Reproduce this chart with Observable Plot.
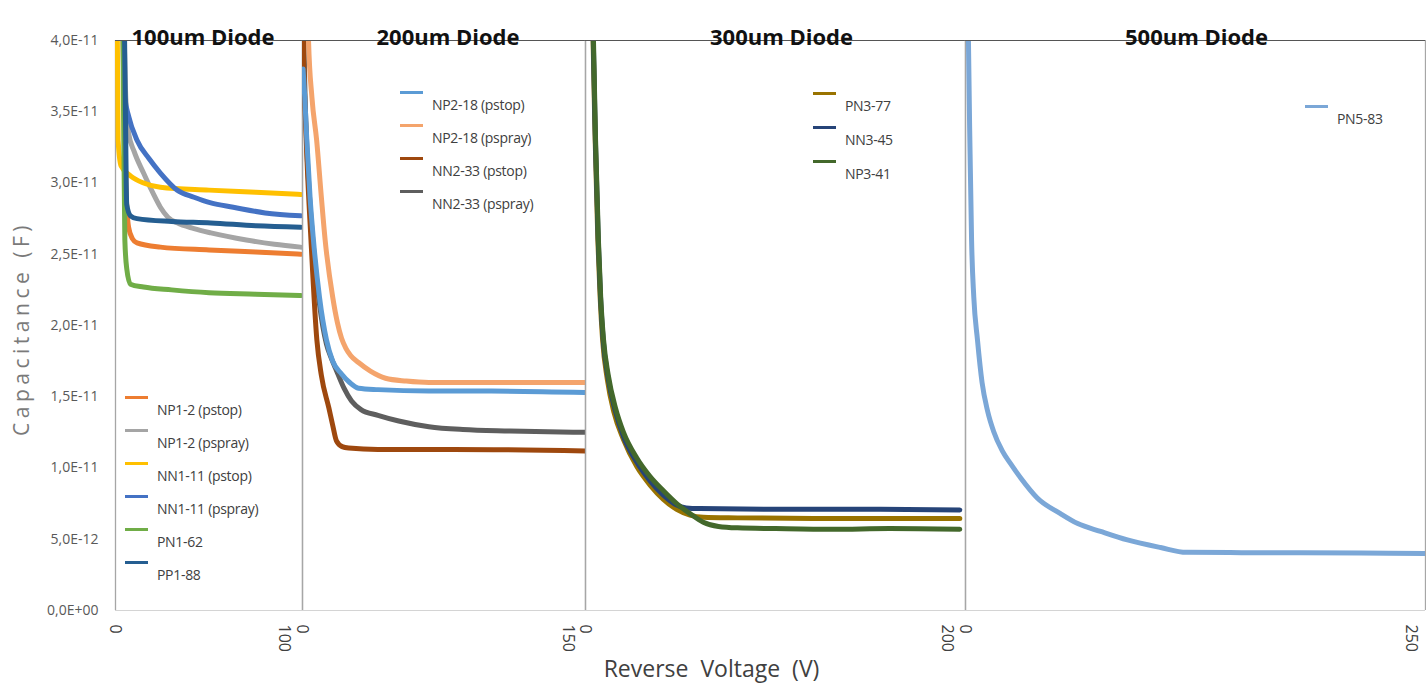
<!DOCTYPE html>
<html><head><meta charset="utf-8">
<script src="https://cdn.jsdelivr.net/npm/d3@7"></script>
<script src="https://cdn.jsdelivr.net/npm/@observablehq/plot@0.6"></script>
<style>
body{margin:0;background:#fff;}
#chart{position:relative;width:1426px;height:692px;overflow:hidden;background:#fff;}
#chart svg{position:absolute;top:0;overflow:visible;}
.leg{position:absolute;height:0;font-family:"Open Sans",sans-serif;font-size:14px;color:#404040;letter-spacing:-0.3px;}
.sw{position:absolute;left:0;top:-1px;width:23px;height:2.5px;}
.lt{position:absolute;left:32px;top:12px;transform:translateY(-50%);white-space:nowrap;}
</style></head><body>
<div id="chart"></div>
<script>
// ---- tick labels / categories ----
const yTicks = [0, 5e-12, 1e-11, 1.5e-11, 2e-11, 2.5e-11, 3e-11, 3.5e-11, 4e-11];
const panelTitles = ["100um Diode", "200um Diode", "300um Diode", "500um Diode"];
const panelXMax = [100, 150, 200, 250];

// ---- series values: [reverse voltage (V), capacitance (F)] ----
// 100um
const np1_2_pstop = [[0,9e-11],[4,4e-11],[5.5,3e-11],[7,2.69e-11],[9,2.61e-11],[11.5,2.58e-11],[24,2.55e-11],[50,2.53e-11],[75,2.515e-11],[99,2.5e-11]];
const np1_2_pspray = [[0,9e-11],[4,4.5e-11],[5.5,3.6e-11],[7,3.35e-11],[10,3.22e-11],[15,3.07e-11],[20,2.93e-11],[24,2.83e-11],[28,2.76e-11],[33,2.72e-11],[42,2.68e-11],[51,2.65e-11],[70,2.6e-11],[85,2.57e-11],[99,2.55e-11]];
const nn1_11_pstop = [[0,9e-11],[1,4e-11],[1.4,3.3e-11],[3,3.12e-11],[8,3.05e-11],[15,3.0e-11],[24,2.97e-11],[50,2.95e-11],[75,2.935e-11],[99,2.92e-11]];
const nn1_11_pspray = [[0,9e-11],[3,5e-11],[4.3,4e-11],[5,3.6e-11],[7,3.47e-11],[11.5,3.3e-11],[18,3.17e-11],[24,3.07e-11],[33,2.95e-11],[42,2.9e-11],[51,2.86e-11],[63,2.83e-11],[80,2.79e-11],[99,2.77e-11]];
const pn1_62 = [[0,9e-11],[3.5,5e-11],[4.3,3.5e-11],[5,2.6e-11],[6,2.4e-11],[8,2.29e-11],[15,2.27e-11],[30,2.25e-11],[50,2.23e-11],[75,2.22e-11],[99,2.21e-11]];
const pp1_88 = [[0,9e-11],[4,5e-11],[5.3,3.5e-11],[6,2.85e-11],[8,2.77e-11],[11.5,2.75e-11],[30,2.73e-11],[51,2.72e-11],[75,2.7e-11],[99,2.69e-11]];
// 200um
const np2_18_pstop = [[0.3,3.8e-11],[1.2,3.6e-11],[2.3,3.3e-11],[4,2.9e-11],[5.8,2.6e-11],[9,2.2e-11],[12.7,1.9e-11],[16,1.75e-11],[20.7,1.66e-11],[25,1.6e-11],[29.7,1.56e-11],[40,1.55e-11],[67,1.54e-11],[100,1.54e-11],[150,1.53e-11]];
const np2_18_pspray = [[0,9e-11],[2,5e-11],[3.2,4e-11],[5,3.6e-11],[7.5,3.3e-11],[10,2.9e-11],[12,2.6e-11],[16,2.2e-11],[18.5,2.02e-11],[20.7,1.91e-11],[23,1.84e-11],[25.5,1.79e-11],[29.7,1.74e-11],[36,1.68e-11],[44,1.63e-11],[55,1.61e-11],[67,1.6e-11],[100,1.6e-11],[150,1.6e-11]];
const nn2_33_pstop = [[0,9e-11],[0.5,4e-11],[2,3.3e-11],[4.5,2.6e-11],[7.6,1.9e-11],[10,1.65e-11],[14,1.42e-11],[16,1.3e-11],[18,1.19e-11],[21,1.15e-11],[24.5,1.14e-11],[40,1.13e-11],[80,1.13e-11],[150,1.12e-11]];
const nn2_33_pspray = [[0,9e-11],[0.8,4e-11],[2.3,3.25e-11],[4,2.85e-11],[5.8,2.55e-11],[9,2.15e-11],[12.7,1.87e-11],[15,1.78e-11],[17.5,1.7e-11],[22,1.56e-11],[26,1.47e-11],[31,1.41e-11],[40,1.37e-11],[51,1.33e-11],[67,1.29e-11],[85,1.27e-11],[110,1.26e-11],[150,1.25e-11]];
// 300um
const pn3_77 = [[0,1e-10],[3,5e-11],[4,4e-11],[5.1,3.3e-11],[6.5,2.6e-11],[7.7,2.2e-11],[9,1.9e-11],[11.5,1.62e-11],[15,1.39e-11],[20,1.2e-11],[27,1.01e-11],[34,8.8e-12],[41,7.8e-12],[48,7.1e-12],[55,6.7e-12],[62,6.55e-12],[80,6.5e-12],[120,6.45e-12],[197,6.45e-12]];
const nn3_45 = [[0,1e-10],[3,5e-11],[4.1,4e-11],[5.2,3.3e-11],[6.7,2.6e-11],[7.9,2.2e-11],[9.3,1.9e-11],[11.8,1.64e-11],[15.5,1.41e-11],[20,1.22e-11],[27,1.04e-11],[34,9.1e-12],[41,8.1e-12],[48,7.4e-12],[53,7.2e-12],[60,7.15e-12],[100,7.1e-12],[150,7.1e-12],[197,7.05e-12]];
const np3_41 = [[0,1e-10],[3,5e-11],[4.2,4e-11],[5.3,3.3e-11],[6.8,2.6e-11],[8,2.2e-11],[9.5,1.9e-11],[12,1.65e-11],[15.8,1.42e-11],[20,1.25e-11],[27,1.07e-11],[34,9.4e-12],[41,8.4e-12],[48,7.5e-12],[55,6.8e-12],[62,6.2e-12],[70,5.9e-12],[80,5.8e-12],[100,5.75e-12],[130,5.7e-12],[160,5.75e-12],[197,5.7e-12]];
// 500um
const pn5_83 = [[0,1e-10],[1,5e-11],[1.6,4e-11],[2.5,3.2e-11],[3.3,2.6e-11],[4.5,2.2e-11],[6.5,1.9e-11],[9,1.6e-11],[12,1.4e-11],[15.2,1.26e-11],[20,1.12e-11],[24.5,1.03e-11],[30,9.3e-12],[39,7.9e-12],[51.6,6.8e-12],[61,6.1e-12],[73.4,5.55e-12],[88,4.95e-12],[106,4.42e-12],[120,4.08e-12],[150,4.06e-12],[182,4.05e-12],[215,4.03e-12],[250,4.0e-12]];

const panelSeries = [
  [["NP1-2 (pstop)", np1_2_pstop], ["NP1-2 (pspray)", np1_2_pspray], ["NN1-11 (pstop)", nn1_11_pstop], ["NN1-11 (pspray)", nn1_11_pspray], ["PN1-62", pn1_62], ["PP1-88", pp1_88]],
  [["NP2-18 (pstop)", np2_18_pstop], ["NP2-18 (pspray)", np2_18_pspray], ["NN2-33 (pstop)", nn2_33_pstop], ["NN2-33 (pspray)", nn2_33_pspray]],
  [["PN3-77", pn3_77], ["NN3-45", nn3_45], ["NP3-41", np3_41]],
  [["PN5-83", pn5_83]]
];

// ---- styles / layout ----
const panelColors = [
  ["#ED7D31", "#A5A5A5", "#FFC000", "#4472C4", "#70AD47", "#255E91"],
  ["#5B9BD5", "#F4A46C", "#9E480E", "#5E5E5E"],
  ["#997300", "#264478", "#43682B"],
  ["#7BA7D7"]
];
const drawOrder = [[0, 1, 2, 3, 4, 5], [3, 2, 1, 0], [0, 1, 2], [0]];
const layout = [
  {left: 0, width: 302, ml: 115, mr: 0, maxDx: -18, titleDx: -6, leg: {x: 125, y: 397, step: 33}},
  {left: 302, width: 283, ml: 0, mr: 0, maxDx: -17, titleDx: 4, leg: {x: 400, y: 92, step: 33}},
  {left: 585, width: 380, ml: 0, mr: 0, maxDx: -18, titleDx: 6, leg: {x: 813, y: 93, step: 34}},
  {left: 965, width: 461, ml: 0, mr: 1, maxDx: -14, titleDx: 1, leg: {x: 1305, y: 106, step: 33}}
];

function sci(v) {
  const [m, e] = v.toExponential(1).split("e");
  const sign = e[0] === "-" ? "-" : "+";
  return m.replace(".", ",") + "E" + sign + e.replace(/[+-]/, "").padStart(2, "0");
}

const chart = document.getElementById("chart");
const fontFam = "'Open Sans', sans-serif";

panelTitles.forEach((title, i) => {
  const L = layout[i];
  const xmax = panelXMax[i];
  const marks = [
    Plot.ruleY([0], {stroke: "#d4d4d4", strokeWidth: 1.2}),
    Plot.ruleX([0, xmax], {stroke: "#a6a6a6", strokeWidth: 1.3}),
    ...drawOrder[i].map(k => {
      const [name, data] = panelSeries[i][k];
      return Plot.line(data, {x: d => d[0], y: d => d[1], stroke: panelColors[i][k], strokeWidth: 5, curve: "monotone-x", clip: true, strokeLinejoin: "round"});
    }),
    Plot.ruleY([4e-11], {stroke: "#555", strokeWidth: 1.2}),
    Plot.axisX({ticks: [0], tickSize: 0, tickPadding: 14, tickRotate: 90, fontSize: 16, fill: "#404040", label: null}),
    Plot.axisX({ticks: [xmax], tickSize: 0, tickPadding: 14, tickRotate: 90, fontSize: 16, fill: "#404040", label: null, dx: L.maxDx}),
    Plot.text([title], {frameAnchor: "top", dx: L.titleDx, dy: -11, fontSize: 22, fontWeight: "bold", fill: "#111", fontFamily: fontFam})
  ];
  if (i === 0) {
    marks.push(
      Plot.axisY({ticks: yTicks, tickFormat: sci, tickSize: 0, tickPadding: 17, fontSize: 14, fill: "#595959", label: null}),
      Plot.text(["Capacitance (F)"], {frameAnchor: "left", textAnchor: "middle", rotate: -90, dx: -93, dy: 3, fontSize: 21, fill: "#7a7a7a", fontFamily: fontFam})
    );
  }
  if (i === 2) {
    marks.push(Plot.text(["Reverse Voltage (V)"], {frameAnchor: "bottom-left", textAnchor: "middle", dx: 126, dy: 66, fontSize: 23, fill: "#404040", fontFamily: fontFam}));
  }
  const svg = Plot.plot({
    width: L.width, height: 692,
    marginTop: 40, marginBottom: 82, marginLeft: L.ml, marginRight: L.mr,
    x: {domain: [0, xmax]},
    y: {domain: [0, 4e-11], axis: i === 0 ? undefined : null},
    style: {background: "transparent", fontFamily: fontFam, overflow: "visible"},
    marks
  });
  svg.querySelectorAll("text").forEach(t => {
    if (t.textContent === "Capacitance (F)") t.style.letterSpacing = "4.5px";
    if (t.textContent === "Reverse Voltage (V)") t.style.wordSpacing = "6px";
  });
  svg.style.left = L.left + "px";
  chart.appendChild(svg);

  // legend
  panelSeries[i].forEach(([name], k) => {
    const d = document.createElement("div");
    d.className = "leg";
    d.style.left = L.leg.x + "px";
    d.style.top = (L.leg.y + k * L.leg.step) + "px";
    const sw = document.createElement("span");
    sw.className = "sw";
    sw.style.background = panelColors[i][k];
    const t = document.createElement("span");
    t.className = "lt";
    t.textContent = name;
    d.appendChild(sw); d.appendChild(t);
    chart.appendChild(d);
  });
});
</script>
</body></html>
